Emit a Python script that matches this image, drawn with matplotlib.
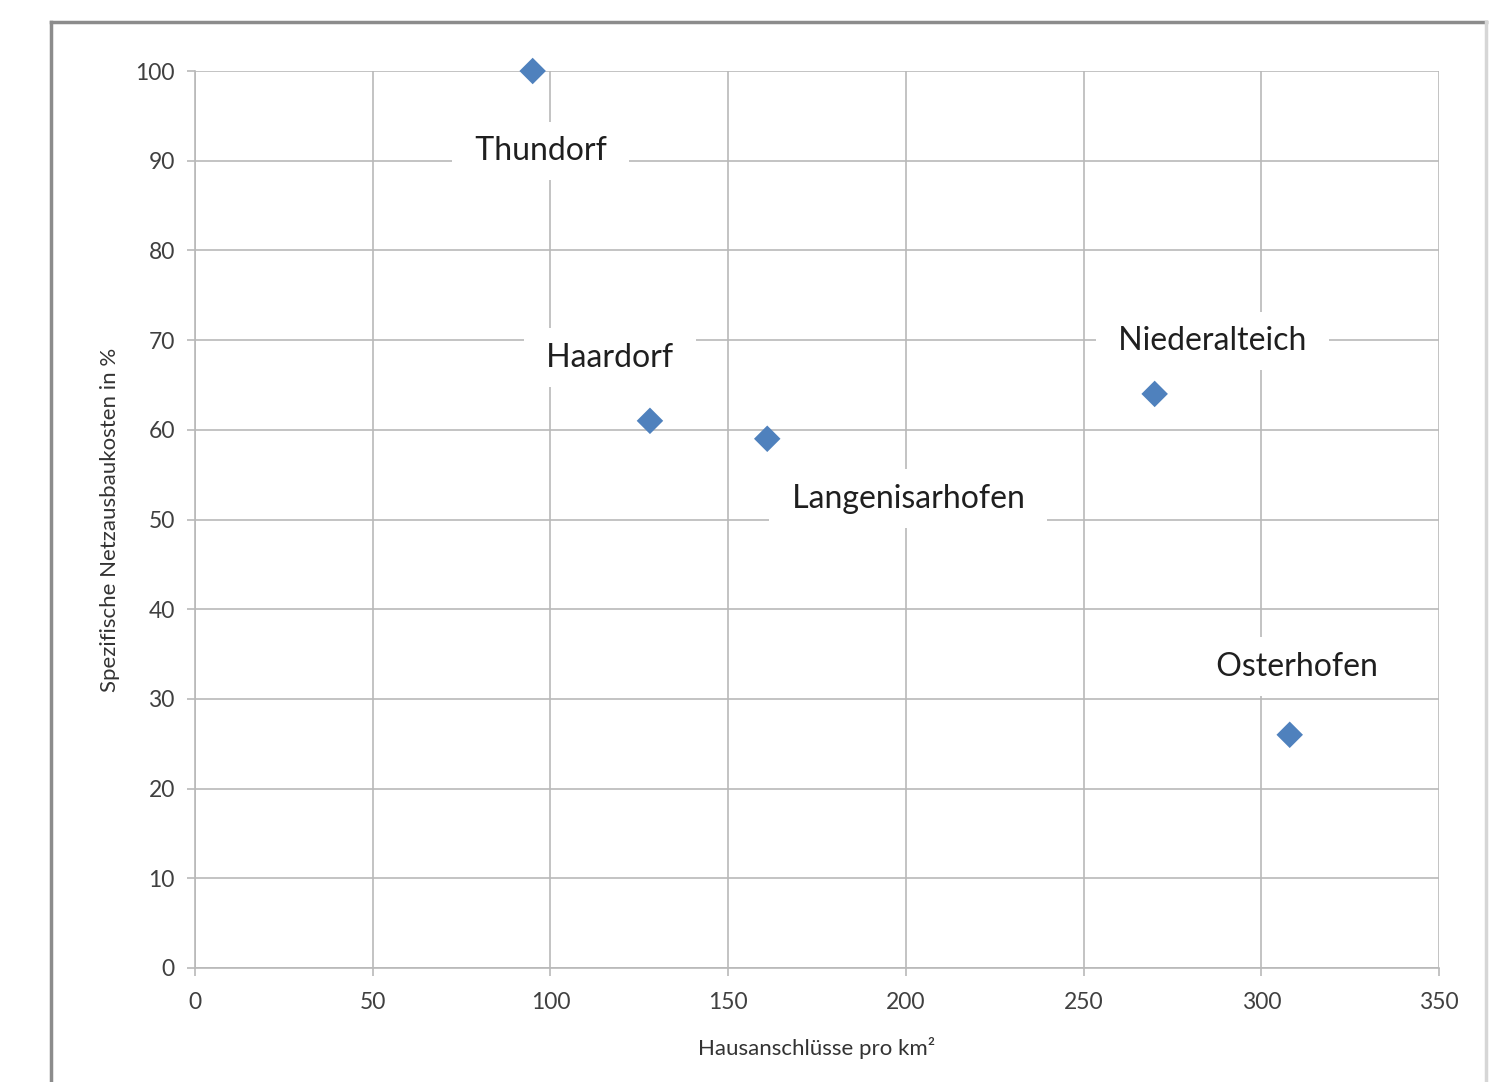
import matplotlib
matplotlib.use("Agg")
import matplotlib.pyplot as plt
from matplotlib.lines import Line2D

# Data: house connections per km² vs. specific grid expansion cost (%)
places = ["Thundorf", "Haardorf", "Langenisarhofen", "Niederalteich", "Osterhofen"]
connections = [95, 128, 161, 270, 308]
cost_pct = [100, 61, 59, 64, 26]
# label offsets in pixels (dx, dy) relative to each point
label_offsets = [(8, -80), (-40, 63), (141, -60), (58, 53), (7, 68)]

x_ticks = [0, 50, 100, 150, 200, 250, 300, 350]
y_ticks = [0, 10, 20, 30, 40, 50, 60, 70, 80, 90, 100]

plt.rcParams["font.family"] = ["Lato", "DejaVu Sans"]

fig = plt.figure(figsize=(15.08, 10.82), dpi=100)
W, H = 1508, 1082

# outer chart frame
frame_color_dark = "#8c8c8c"
frame_color_light = "#d6d6d6"
fig.add_artist(Line2D([51 / W, 51 / W], [0, 1 - 22 / H], color=frame_color_dark, lw=2.5, transform=fig.transFigure))
fig.add_artist(Line2D([51 / W, 1486 / W], [1 - 22 / H, 1 - 22 / H], color=frame_color_dark, lw=2.5, transform=fig.transFigure))
fig.add_artist(Line2D([1486 / W, 1486 / W], [0, 1 - 22 / H], color=frame_color_light, lw=2.5, transform=fig.transFigure))

ax = fig.add_axes([195 / W, 1 - 968 / H, (1439 - 195) / W, (968 - 71) / H])

grid_color = "#b9b9b9"
ax.set_xlim(0, 350)
ax.set_ylim(0, 100)
ax.set_xticks(x_ticks)
ax.set_yticks(y_ticks)
ax.grid(True, color=grid_color, linewidth=1.2, zorder=0)
ax.set_axisbelow(True)
for side in ["top", "right"]:
    ax.spines[side].set_visible(False)
for side in ["left", "bottom"]:
    ax.spines[side].set_color(grid_color)
    ax.spines[side].set_linewidth(1.2)
ax.tick_params(axis="both", colors=grid_color, length=5.5, width=1.2, labelcolor="#404040", labelsize=16.5)
ax.tick_params(axis="x", pad=12)
ax.tick_params(axis="y", pad=9)

ax.scatter(connections, cost_pct, marker="D", s=13.5 ** 2, color="#4f81bd", edgecolors="none", zorder=5, clip_on=False)

for name, x, y, (dx, dy) in zip(places, connections, cost_pct, label_offsets):
    ax.annotate(f" {name} ", xy=(x, y), xytext=(dx, dy), textcoords="offset pixels",
                ha="center", va="center", fontsize=23, color="#1f1f1f", zorder=4,
                bbox=dict(boxstyle="square,pad=0.45", facecolor="white", edgecolor="none"))

ax.set_xlabel("Hausanschlüsse pro km²", fontsize=16, color="#333333", labelpad=17)
ax.set_ylabel("Spezifische Netzausbaukosten in %", fontsize=16, color="#333333", labelpad=11)

fig.savefig("out.png", dpi=100, facecolor="white")
